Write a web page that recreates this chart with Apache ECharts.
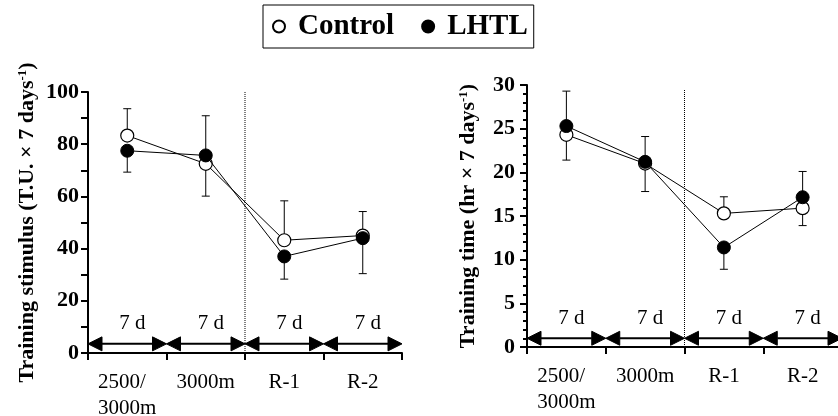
<!DOCTYPE html>
<html>
<head>
<meta charset="utf-8">
<script src="https://cdn.jsdelivr.net/npm/echarts@6/dist/echarts.min.js"></script>
<style>
  html, body { margin: 0; padding: 0; background: #fff; }
  #chart { width: 838px; height: 416px; }
</style>
</head>
<body>
<div id="chart"></div>
<script>
// categories on both x axes
var categories = ['2500/\n3000m', '3000m', 'R-1', 'R-2'];

// left panel: training stimulus (T.U. x 7 days^-1)
var stimControl = [83.3, 72.5, 43.2, 45.0];
var stimLHTL = [77.5, 75.7, 37.0, 44.0];
// end value of each (one sided) error bar
var stimControlBar = [93.6, 60.1, 58.3, 54.2];
var stimLHTLBar = [69.3, 90.9, 28.3, 30.4];

// right panel: training time (hr x 7 days^-1)
var timeControl = [24.3, 21.0, 15.3, 15.9];
var timeLHTL = [25.3, 21.2, 11.4, 17.15];
var timeControlBar = [21.4, 17.8, 17.2, 13.9];
var timeLHTLBar = [29.3, 24.1, 8.9, 20.1];

// phase arrows (in category-boundary units) and their labels
var arrowSpans = [[0, 1], [1, 2], [2, 3], [3, 4]];
var arrowLabels = ['7 d', '7 d', '7 d', '7 d'];
var stimArrowLevel = 3.5;
var timeArrowLevel = 1.0;

// dotted divider between altitude and return
var dividerAt = 2;
var stimDividerTop = 100;
var timeDividerTop = 29.5;

var FONT = '"Liberation Serif", "Times New Roman", serif';

var mychart = echarts.init(document.getElementById('chart'));

function errRender(params, api) {
  var p0 = api.coord([api.value(0), api.value(1)]);
  var p1 = api.coord([api.value(0), api.value(2)]);
  var st = { stroke: '#000', lineWidth: 1 };
  return {
    type: 'group',
    children: [
      { type: 'line', shape: { x1: p0[0], y1: p0[1], x2: p1[0], y2: p1[1] }, style: st },
      { type: 'line', shape: { x1: p1[0] - 4, y1: p1[1], x2: p1[0] + 4, y2: p1[1] }, style: st }
    ]
  };
}

function arrowRender(params, api) {
  var p = api.coord([api.value(0), api.value(2)]);
  var q = api.coord([api.value(1), api.value(2)]);
  var L = 14, H = 7;
  var tri = { fill: '#000', stroke: '#000', lineWidth: 1 };
  return {
    type: 'group',
    children: [
      { type: 'line', shape: { x1: p[0] + L, y1: p[1], x2: q[0] - L, y2: q[1] },
        style: { stroke: '#000', lineWidth: 2 } },
      { type: 'polygon', shape: { points: [[p[0], p[1]], [p[0] + L, p[1] - H], [p[0] + L, p[1] + H]] },
        style: tri },
      { type: 'polygon', shape: { points: [[q[0], q[1]], [q[0] - L, q[1] - H], [q[0] - L, q[1] + H]] },
        style: tri },
      { type: 'text', x: (p[0] + q[0]) / 2 + 5, y: p[1] - 20,
        style: { text: arrowLabels[params.dataIndex], font: '21px ' + FONT, fill: '#000',
                 align: 'center', verticalAlign: 'middle' } }
    ]
  };
}

function errData(vals, bars) {
  return vals.map(function (v, i) { return [i, v, bars[i]]; });
}
function arrowData(level) {
  return arrowSpans.map(function (s) { return [s[0], s[1], level]; });
}

function catAxis(grid) {
  return {
    gridIndex: grid,
    type: 'category',
    data: categories,
    boundaryGap: true,
    axisLine: { lineStyle: { color: '#000', width: 2 } },
    axisTick: { show: true, length: 7, lineStyle: { color: '#000', width: 2 } },
    axisLabel: {
      color: '#000', fontFamily: FONT, fontSize: 21, margin: 16, lineHeight: 26,
      formatter: function (v) { return v.replace('/\n', '/  \n'); }
    },
    splitLine: { show: false }
  };
}

function valAxis(grid, max, interval, minorSplit, minorLen, name, gap, labelMargin, fs) {
  return {
    gridIndex: grid,
    type: 'value',
    min: 0,
    max: max,
    interval: interval,
    name: name,
    nameLocation: 'middle',
    nameGap: gap,
    nameTextStyle: {
      color: '#000', fontFamily: FONT, fontWeight: 'bold', fontSize: 22,
      rich: {
        sup: { fontFamily: FONT, fontWeight: 'bold', fontSize: 13, color: '#000', verticalAlign: 'top' }
      }
    },
    axisLine: { show: true, lineStyle: { color: '#000', width: 2 } },
    axisTick: { show: true, length: 7, lineStyle: { color: '#000', width: 2 } },
    minorTick: { show: true, splitNumber: minorSplit, length: minorLen, lineStyle: { color: '#000', width: 2 } },
    axisLabel: { color: '#000', fontFamily: FONT, fontWeight: 'bold', fontSize: fs, margin: labelMargin },
    splitLine: { show: false },
    minorSplitLine: { show: false }
  };
}

function lineSeries(name, xi, yi, data, z) {
  var open = name === 'Control';
  return {
    name: name,
    type: 'line',
    xAxisIndex: xi,
    yAxisIndex: yi,
    data: data,
    z: z,
    symbol: 'circle',
    symbolSize: 13,
    showAllSymbol: true,
    lineStyle: { color: '#000', width: 1 },
    itemStyle: open ? { color: '#fff', borderColor: '#000', borderWidth: 1.2 } : { color: '#000', borderColor: '#000', borderWidth: 1 },
    emphasis: { disabled: true }
  };
}

var option = {
  animation: false,
  backgroundColor: '#fff',
  legend: {
    data: ['Control', 'LHTL'],
    left: 263,
    top: 5,
    orient: 'horizontal',
    icon: 'circle',
    itemWidth: 28,
    itemHeight: 12,
    itemGap: 27,
    padding: [7, 6, 7, 9],
    borderColor: '#000',
    borderWidth: 1,
    textStyle: { color: '#000', fontFamily: FONT, fontWeight: 'bold', fontSize: 29 }
  },
  grid: [
    { left: 88, top: 92, width: 314, height: 261, outerBoundsMode: 'none', containLabel: false },
    { left: 527, top: 85, width: 315, height: 262, outerBoundsMode: 'none', containLabel: false }
  ],
  xAxis: [
    catAxis(0),
    catAxis(1),
    { gridIndex: 0, type: 'value', min: 0, max: 4, show: false },
    { gridIndex: 1, type: 'value', min: 0, max: 4, show: false }
  ],
  yAxis: [
    valAxis(0, 100, 20, 2, 7, 'Training stimulus (T.U. × 7 days{sup|-1})', 50, 9, 22),
    valAxis(1, 30, 5, 5, 4, 'Training time (hr × 7 days{sup|-1})', 48, 12, 22)
  ],
  series: [
    // left panel
    { type: 'line', xAxisIndex: 2, yAxisIndex: 0, silent: true, symbol: 'none', z: 1,
      data: [[dividerAt, 0], [dividerAt, stimDividerTop]],
      lineStyle: { color: '#000', width: 1, type: 'dotted' } },
    { type: 'custom', xAxisIndex: 2, yAxisIndex: 0, silent: true, z: 1,
      renderItem: arrowRender, data: arrowData(stimArrowLevel), encode: { x: [0, 1], y: 2 } },
    { type: 'custom', xAxisIndex: 0, yAxisIndex: 0, silent: true, z: 1,
      renderItem: errRender, data: errData(stimControl, stimControlBar), encode: { x: 0, y: [1, 2] } },
    { type: 'custom', xAxisIndex: 0, yAxisIndex: 0, silent: true, z: 1,
      renderItem: errRender, data: errData(stimLHTL, stimLHTLBar), encode: { x: 0, y: [1, 2] } },
    lineSeries('Control', 0, 0, stimControl, 2),
    lineSeries('LHTL', 0, 0, stimLHTL, 3),
    // right panel
    { type: 'line', xAxisIndex: 3, yAxisIndex: 1, silent: true, symbol: 'none', z: 1,
      data: [[dividerAt, 0], [dividerAt, timeDividerTop]],
      lineStyle: { color: '#000', width: 1, type: 'dotted' } },
    { type: 'custom', xAxisIndex: 3, yAxisIndex: 1, silent: true, z: 1,
      renderItem: arrowRender, data: arrowData(timeArrowLevel), encode: { x: [0, 1], y: 2 } },
    { type: 'custom', xAxisIndex: 1, yAxisIndex: 1, silent: true, z: 1,
      renderItem: errRender, data: errData(timeControl, timeControlBar), encode: { x: 0, y: [1, 2] } },
    { type: 'custom', xAxisIndex: 1, yAxisIndex: 1, silent: true, z: 1,
      renderItem: errRender, data: errData(timeLHTL, timeLHTLBar), encode: { x: 0, y: [1, 2] } },
    lineSeries('Control', 1, 1, timeControl, 2),
    lineSeries('LHTL', 1, 1, timeLHTL, 3)
  ]
};

mychart.setOption(option);
</script>
</body>
</html>
